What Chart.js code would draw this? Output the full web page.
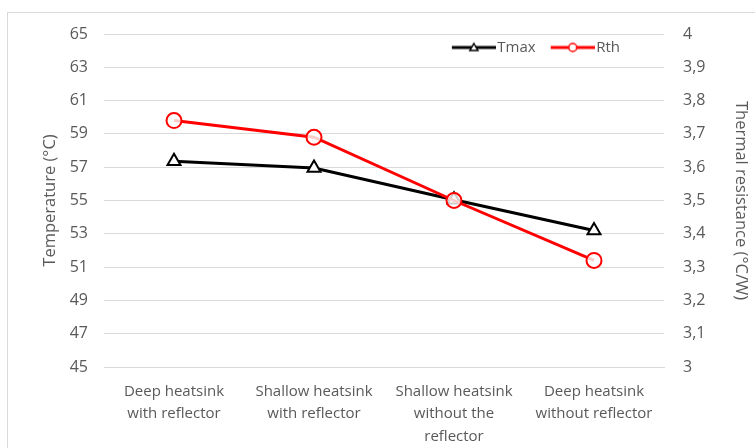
<!DOCTYPE html>
<html>
<head>
<meta charset="utf-8">
<script src="https://cdn.jsdelivr.net/npm/chart.js@4/dist/chart.umd.min.js"></script>
<style>
    body { margin: 0; background: #fff; overflow: hidden; }
    #frame { position: absolute; left: 7px; top: 12px; width: 800px; height: 500px; border: 1px solid #d9d9d9; }
    #box { position: absolute; left: 0; top: 0; width: 755px; height: 448px; }
</style>
</head>
<body>
<div id="frame"></div>
<div id="box"><canvas id="tempChart"></canvas></div>
<script>

const categories = [
    ["Deep heatsink", "with reflector"],
    ["Shallow heatsink", "with reflector"],
    ["Shallow heatsink", "without the", "reflector"],
    ["Deep heatsink", "without reflector"]
];
const tmax = [57.35, 56.95, 55.05, 53.2];
const rth = [3.74, 3.69, 3.50, 3.32];

const textColor = "#595959";
const font = "'Open Sans', sans-serif";

// small line + marker picture for each legend entry
// (wider than the legend box so the line runs close to the text)
function legendIcon(color, shape) {
    const c = document.createElement("canvas");
    c.width = 48;
    c.height = 14;
    const ctx = c.getContext("2d");
    ctx.strokeStyle = color;
    ctx.lineWidth = 3;
    ctx.beginPath();
    ctx.moveTo(4, 7);
    ctx.lineTo(48, 7);
    ctx.stroke();
    ctx.fillStyle = "#fff";
    ctx.lineWidth = 1.5;
    ctx.beginPath();
    if (shape == "triangle") {
        ctx.moveTo(26, 3);
        ctx.lineTo(30, 10);
        ctx.lineTo(22, 10);
        ctx.closePath();
    } else {
        ctx.arc(26, 7, 4, 0, Math.PI * 2);
    }
    ctx.fill();
    ctx.stroke();
    return c;
}

const icons = [legendIcon("#000", "triangle"), legendIcon("#ff0000", "circle")];

// put the legend inside the plot, top right
const moveLegend = {
    id: "moveLegend",
    afterLayout(chart) {
        chart.legend.top = 23;
        chart.legend.bottom = 80;
        chart.legend.right = 637;
    }
};

const ctx = document.querySelector("#tempChart");

new Chart(ctx, {
    type: "line",
    data: {
        labels: categories,
        datasets: [{
            label: "Tmax",
            data: tmax,
            yAxisID: "y",
            borderColor: "#000",
            borderWidth: 3,
            pointStyle: "triangle",
            pointRadius: 7.5,
            pointBorderWidth: 2,
            pointBackgroundColor: "#fff",
            pointBorderColor: "#000",
            order: 2
        }, {
            label: "Rth",
            data: rth,
            yAxisID: "y1",
            borderColor: "#ff0000",
            borderWidth: 3,
            pointStyle: "circle",
            pointRadius: 7.5,
            pointBorderWidth: 2,
            pointBackgroundColor: "rgba(255,255,255,0.8)",
            pointBorderColor: "#ff0000",
            order: 1
        }]
    },
    options: {
        responsive: true,
        maintainAspectRatio: false,
        animation: false,
        layout: { padding: { top: 4, left: 30, right: 0, bottom: 0 } },
        plugins: {
            tooltip: { enabled: false },
            legend: {
                position: "top",
                align: "end",
                maxHeight: 30,
                labels: {
                    usePointStyle: true,
                    pointStyleWidth: 36,
                    padding: 17,
                    color: textColor,
                    font: { family: font, size: 15 },
                    generateLabels: (chart) => chart.data.datasets.map((ds, i) => ({
                        text: ds.label,
                        pointStyle: icons[i],
                        fontColor: textColor,
                        datasetIndex: i,
                        lineWidth: 0,
                        fillStyle: "transparent",
                        strokeStyle: "transparent"
                    }))
                }
            }
        },
        scales: {
            x: {
                offset: true,
                grid: { display: false, drawTicks: false },
                border: { display: true, color: "#d9d9d9" },
                ticks: {
                    color: textColor,
                    font: { family: font, size: 15, lineHeight: 1.5 },
                    padding: 13,
                    maxRotation: 0,
                    autoSkip: false
                },
                afterFit: (scale) => { scale.height = 81; }
            },
            y: {
                position: "left",
                min: 45,
                max: 65,
                grid: { color: "#d9d9d9", drawTicks: false },
                border: { display: false },
                ticks: {
                    stepSize: 2,
                    color: textColor,
                    font: { family: font, size: 16 },
                    padding: 16
                },
                title: {
                    display: true,
                    text: "Temperature (°C)",
                    color: textColor,
                    font: { family: font, size: 16.5 },
                    padding: { top: 10, bottom: 0 }
                },
                afterFit: (scale) => { scale.width = 74; }
            },
            y1: {
                position: "right",
                min: 3,
                max: 4,
                grid: { display: false, drawTicks: false },
                border: { display: false },
                ticks: {
                    stepSize: 0.1,
                    color: textColor,
                    font: { family: font, size: 16 },
                    padding: 19,
                    callback: (v) => Number(v.toFixed(1)).toString().replace(".", ",")
                },
                title: {
                    display: true,
                    text: "Thermal resistance (°C/W)",
                    color: textColor,
                    font: { family: font, size: 16.5 },
                    padding: { top: 4, bottom: 0 }
                },
                afterFit: (scale) => { scale.width = 91; }
            }
        }
    },
    plugins: [moveLegend]
});

</script>
</body>
</html>
